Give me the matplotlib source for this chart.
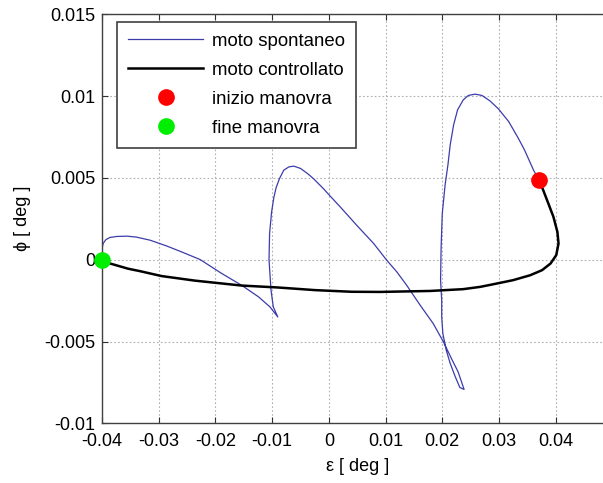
import matplotlib
matplotlib.use("Agg")
import matplotlib.pyplot as plt
from matplotlib.ticker import FixedLocator

plt.rcParams['font.family'] = ['Liberation Sans', 'DejaVu Sans']

# spontaneous motion (blue)
spont_eps = [-0.0400, -0.0400, -0.0398, -0.0393, -0.0386, -0.0374, -0.0356, -0.0339, -0.0315,
             -0.0286, -0.0257, -0.0227, -0.0189, -0.0154, -0.0124, -0.0104, -0.0090,
             -0.0098, -0.0102, -0.01055, -0.01045, -0.0101, -0.0097, -0.0093, -0.0087,
             -0.00795, -0.00707, -0.00619, -0.0050, -0.0037, -0.00273, -0.00097, 0.0001,
             0.0020, 0.0049, 0.0079, 0.0102, 0.0120, 0.0137, 0.0161, 0.0184, 0.0202,
             0.0217, 0.0228, 0.0237, 0.02385,
             0.0231, 0.0223, 0.0214, 0.0207, 0.0201, 0.0199, 0.0199, 0.0197, 0.0198,
             0.0200, 0.0205, 0.0210, 0.0214, 0.0220, 0.0227, 0.0237, 0.0246, 0.0258,
             0.0270, 0.0284, 0.0299, 0.0317, 0.0334, 0.0345, 0.0361, 0.0370]
spont_phi = [0.0000, 0.00068, 0.00099, 0.00123, 0.00136, 0.00142, 0.00144, 0.00138, 0.00119,
             0.00084, 0.00044, 0.00001, -0.00084, -0.00156, -0.00227, -0.00288, -0.0035,
             -0.00288, -0.00186, 0.0000, 0.0016, 0.0029, 0.0038, 0.00440, 0.00496,
             0.00547, 0.00567, 0.00572, 0.00558, 0.00525, 0.00496, 0.00435, 0.00394,
             0.00323, 0.00211, 0.00099, -0.00003, -0.00075, -0.00155, -0.00278, -0.0039, -0.00502,
             -0.00610, -0.00686, -0.00778, -0.00793,
             -0.00781, -0.00716, -0.00634, -0.00553, -0.00451, -0.0035, -0.00248, -0.00125, 0.00078,
             0.00282, 0.00457, 0.0058, 0.00702, 0.00824, 0.00916, 0.00977, 0.01004, 0.01012,
             0.01004, 0.00971, 0.00922, 0.00845, 0.00743, 0.00671, 0.00547, 0.0049]

# controlled motion (black)
ctrl_eps = [0.0370, 0.0378, 0.0387, 0.0396, 0.0403, 0.0405, 0.0401, 0.0391, 0.0376,
            0.0355, 0.0325, 0.0290, 0.0267, 0.0237, 0.0179, 0.0090, 0.0040, -0.0024, -0.0089,
            -0.0154, -0.0236, -0.0295, -0.0333, -0.0354, -0.0386, -0.0400]
ctrl_phi = [0.0049, 0.00425, 0.00344, 0.00262, 0.0017, 0.00099, 0.00028, -0.00023, -0.00064,
            -0.00095, -0.00125, -0.0015, -0.00166, -0.00180, -0.00191, -0.00197, -0.00196, -0.00186, -0.0017,
            -0.00158, -0.00128, -0.0010, -0.00070, -0.00055, -0.00023, 0.0000]

start_pt = (0.0370, 0.0049)
end_pt = (-0.0400, 0.0000)

xticks = [-0.04, -0.03, -0.02, -0.01, 0, 0.01, 0.02, 0.03, 0.04]
xticklabels = ['-0.04', '-0.03', '-0.02', '-0.01', '0', '0.01', '0.02', '0.03', '0.04']
yticks = [-0.01, -0.005, 0, 0.005, 0.01, 0.015]
yticklabels = ['-0.01', '-0.005', '0', '0.005', '0.01', '0.015']

fig = plt.figure(figsize=(6.03, 4.83), dpi=100)
ax = fig.add_axes([102/603, 1-423.3/483, 510.4/603, 409/483])

ax.plot(spont_eps, spont_phi, color='#3c3cab', lw=0.9, label='moto spontaneo',
        solid_joinstyle='round')
ax.plot(ctrl_eps, ctrl_phi, color='black', lw=1.8, label='moto controllato',
        solid_joinstyle='round')
ax.plot([start_pt[0]], [start_pt[1]], 'o', color='#ff0000', ms=11, mec='#ff0000',
        label='inizio manovra', zorder=5, clip_on=False)
ax.plot([end_pt[0]], [end_pt[1]], 'o', color='#00ee00', ms=11, mec='#00ee00',
        label='fine manovra', zorder=5, clip_on=False)

ax.set_xlim(-0.04, 0.05)
ax.set_ylim(-0.01, 0.015)
ax.xaxis.set_major_locator(FixedLocator(xticks))
ax.set_xticklabels(xticklabels)
ax.yaxis.set_major_locator(FixedLocator(yticks))
ax.set_yticklabels(yticklabels)

ax.grid(True, color='#b0b0b0', linestyle=(0, (1.5, 2)), linewidth=0.8)
ax.tick_params(direction='in', length=4, width=0.8, colors='#303030', labelsize=13,
               top=True, right=True)
ax.tick_params(axis='x', pad=7)
ax.tick_params(axis='y', pad=5)
ax.tick_params(labelcolor='black')
for s in ax.spines.values():
    s.set_color('#404040')
    s.set_linewidth(1.0)

ax.set_xlabel('ε [ deg ]', fontsize=13, labelpad=6)
ax.set_ylabel('ϕ [ deg ]', fontsize=13, labelpad=9)

leg = ax.legend(loc='upper left', bbox_to_anchor=(0.030, 0.982), borderaxespad=0,
                fontsize=13.4, handlelength=4.0, handletextpad=0.5, labelspacing=0.64,
                borderpad=0.6, fancybox=False, framealpha=1, edgecolor='#404040')
leg.get_frame().set_linewidth(1.2)

fig.savefig('out.png', dpi=100)
